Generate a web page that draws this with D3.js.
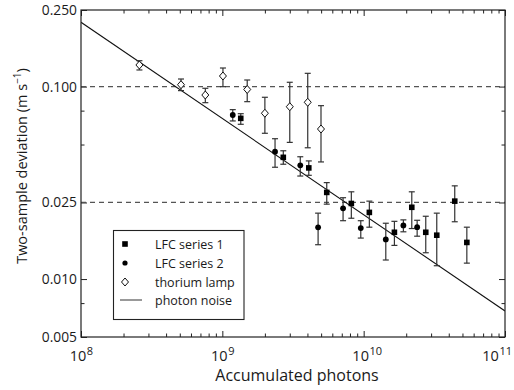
<!DOCTYPE html>
<html><head><meta charset="utf-8">
<script src="https://cdn.jsdelivr.net/npm/d3@7"></script>
<style>body{margin:0;background:#fff}svg{display:block}text{font-family:"Open Sans",sans-serif;fill:#1a1a1a}</style>
</head><body><svg id="c" width="514" height="390"></svg>
<script>
// ---- data ----
const thoriumN   = [2.59e8, 5.10e8, 7.58e8, 1.01e9, 1.50e9, 2.00e9, 3.00e9, 4.02e9, 4.99e9];
const thoriumDev = [0.1295, 0.1023, 0.0904, 0.1135, 0.0966, 0.0727, 0.0786, 0.0829, 0.0602];
const thoriumLo  = [0.1220, 0.0953, 0.0825, 0.0999, 0.0835, 0.0572, 0.0513, 0.0481, 0.0406];
const thoriumHi  = [0.1363, 0.1095, 0.0980, 0.1249, 0.1082, 0.0880, 0.1053, 0.1172, 0.0796];

const lfc1N   = [1.35e9, 2.70e9, 4.09e9, 5.48e9, 8.18e9, 1.097e10, 1.65e10, 2.19e10, 2.75e10, 3.29e10, 4.41e10, 5.37e10];
const lfc1Dev = [0.0684, 0.0429, 0.0378, 0.0282, 0.0247, 0.0222, 0.0175, 0.0236, 0.0175, 0.0169, 0.0254, 0.0155];
const lfc1Lo  = [0.0637, 0.0395, 0.0346, 0.0245, 0.0207, 0.0186, 0.01496, 0.0183, 0.0137, 0.01173, 0.01985, 0.0121];
const lfc1Hi  = [0.0723, 0.0464, 0.0411, 0.0317, 0.0284, 0.0254, 0.01995, 0.0284, 0.0212, 0.0220, 0.0305, 0.0186];

const lfc2N   = [1.185e9, 2.36e9, 3.56e9, 4.76e9, 7.15e9, 9.54e9, 1.434e10, 1.91e10, 2.39e10];
const lfc2Dev = [0.0712, 0.0459, 0.0390, 0.01856, 0.0233, 0.0184, 0.01607, 0.0190, 0.0186];
const lfc2Lo  = [0.0663, 0.0381, 0.0343, 0.01508, 0.0201, 0.01633, 0.01256, 0.0176, 0.0167];
const lfc2Hi  = [0.0759, 0.0536, 0.0432, 0.0220, 0.02646, 0.0201, 0.0195, 0.0203, 0.0202];

const noiseN   = [1e8, 1e11];
const noiseDev = [0.2159, 0.00683];

const refLevels = [0.1, 0.025];

const yMajor = [0.25, 0.1, 0.025, 0.01, 0.005];
const yMajorLabels = ["0.250", "0.100", "0.025", "0.010", "0.005"];
const yMinor = [0.075, 0.05, 0.0075];
const xMajorExp = [8, 9, 10, 11];

const legendLabels = ["LFC series 1", "LFC series 2", "thorium lamp", "photon noise"];

// ---- layout ----
const W = 514;
const svg = d3.select("#c");
const L = 81, R = 505, T = 10, B = 337;
const x = d3.scaleLog().domain([1e8, 1e11]).range([L, R]);
const y = d3.scaleLog().domain([0.005, 0.25]).range([B, T]);

const xMinor = [];
for (let e = 8; e < 11; e++) for (let m = 2; m <= 9; m++) xMinor.push(m * Math.pow(10, e));
const xMajor = xMajorExp.map(e => Math.pow(10, e));

const axCol = "#222";
function styleAxis(g) {
  g.select(".domain").remove();
  g.selectAll(".tick line").attr("stroke", axCol).attr("stroke-width", 1);
  g.selectAll(".tick text").remove();
}
svg.append("g").attr("transform", `translate(0,${B})`).call(d3.axisBottom(x).tickValues(xMajor).tickSize(-6)).call(styleAxis);
svg.append("g").attr("transform", `translate(0,${B})`).call(d3.axisBottom(x).tickValues(xMinor).tickSize(-3.5)).call(styleAxis);
svg.append("g").attr("transform", `translate(0,${T})`).call(d3.axisTop(x).tickValues(xMajor).tickSize(-6)).call(styleAxis);
svg.append("g").attr("transform", `translate(0,${T})`).call(d3.axisTop(x).tickValues(xMinor).tickSize(-3.5)).call(styleAxis);
svg.append("g").attr("transform", `translate(${L},0)`).call(d3.axisLeft(y).tickValues(yMajor).tickSize(-6)).call(styleAxis);
svg.append("g").attr("transform", `translate(${L},0)`).call(d3.axisLeft(y).tickValues(yMinor).tickSize(-3.5)).call(styleAxis);
svg.append("g").attr("transform", `translate(${R},0)`).call(d3.axisRight(y).tickValues(yMajor).tickSize(-6)).call(styleAxis);
svg.append("g").attr("transform", `translate(${R},0)`).call(d3.axisRight(y).tickValues(yMinor).tickSize(-3.5)).call(styleAxis);

// y tick labels
svg.append("g").selectAll("text").data(yMajor).join("text")
  .attr("x", L - 4).attr("y", d => y(d)).attr("dy", "0.36em")
  .attr("text-anchor", "end").attr("font-size", 13.8).text((d, i) => yMajorLabels[i]);

// x tick labels: base "10" centred just left of the tick, exponent after it
const xg = svg.append("g");
xMajorExp.forEach(e => {
  let cx = x(Math.pow(10, e)) - 3;
  const base = xg.append("text").attr("x", cx).attr("y", 361).attr("text-anchor", "middle")
    .attr("font-size", 14.5).text("10");
  const w = base.node().getComputedTextLength();
  const sup = xg.append("text").attr("x", cx + w / 2 + 0.5).attr("y", 355).attr("font-size", 11).text(e);
  const sw = sup.node().getComputedTextLength();
  const right = cx + w / 2 + 0.5 + sw;
  if (right > W - 2) {
    const shift = right - (W - 2);
    cx -= shift;
    base.attr("x", cx);
    sup.attr("x", cx + w / 2 + 0.5);
  }
});

// axis titles
svg.append("text").attr("x", 297).attr("y", 381).attr("text-anchor", "middle")
  .attr("font-size", 16).text("Accumulated photons");
const yt = svg.append("text").attr("transform", "translate(27,166) rotate(-90)")
  .attr("text-anchor", "middle").attr("font-size", 14.5);
yt.append("tspan").text("Two-sample deviation (m s");
yt.append("tspan").attr("font-size", 10).attr("dy", -6).text("\u22121");
yt.append("tspan").attr("dy", 6).text(")");

// clip
svg.append("clipPath").attr("id", "clip").append("rect").attr("x", L).attr("y", T).attr("width", R - L).attr("height", B - T);
const plot = svg.append("g").attr("clip-path", "url(#clip)");

plot.selectAll("line.ref").data(refLevels).join("line")
  .attr("x1", L).attr("x2", R).attr("y1", d => y(d)).attr("y2", d => y(d))
  .attr("stroke", "#555").attr("stroke-width", 1.2).attr("stroke-dasharray", "5,4");

const noise = noiseN.map((n, i) => [n, noiseDev[i]]);
plot.append("path").datum(noise)
  .attr("d", d3.line().x(d => x(d[0])).y(d => y(d[1])))
  .attr("stroke", "#111").attr("stroke-width", 1.1).attr("fill", "none");

function errorBars(N, lo, hi) {
  const g = plot.append("g").attr("stroke", "#333").attr("stroke-width", 1.2);
  N.forEach((n, i) => {
    const cx = x(n);
    g.append("line").attr("x1", cx).attr("x2", cx).attr("y1", y(lo[i])).attr("y2", y(hi[i]));
    g.append("line").attr("x1", cx - 3).attr("x2", cx + 3).attr("y1", y(lo[i])).attr("y2", y(lo[i]));
    g.append("line").attr("x1", cx - 3).attr("x2", cx + 3).attr("y1", y(hi[i])).attr("y2", y(hi[i]));
  });
}
errorBars(thoriumN, thoriumLo, thoriumHi);
errorBars(lfc1N, lfc1Lo, lfc1Hi);
errorBars(lfc2N, lfc2Lo, lfc2Hi);

const diamond = "M0,-4L3.5,0L0,4L-3.5,0Z";
plot.append("g").selectAll("path").data(thoriumN).join("path")
  .attr("transform", (d, i) => `translate(${x(d)},${y(thoriumDev[i])})`)
  .attr("d", diamond).attr("fill", "#fff").attr("stroke", "#111").attr("stroke-width", 1);
plot.append("g").selectAll("rect").data(lfc1N).join("rect")
  .attr("x", d => x(d) - 2.8).attr("y", (d, i) => y(lfc1Dev[i]) - 2.8)
  .attr("width", 5.6).attr("height", 5.6).attr("fill", "#000");
plot.append("g").selectAll("circle").data(lfc2N).join("circle")
  .attr("cx", d => x(d)).attr("cy", (d, i) => y(lfc2Dev[i])).attr("r", 2.9).attr("fill", "#000");

svg.append("rect").attr("x", L).attr("y", T).attr("width", R - L).attr("height", B - T)
  .attr("fill", "none").attr("stroke", axCol).attr("stroke-width", 1.2);

// legend
const lg = svg.append("g");
lg.append("rect").attr("x", 113.5).attr("y", 230.5).attr("width", 130.5).attr("height", 89)
  .attr("fill", "#fff").attr("stroke", axCol).attr("stroke-width", 1.1);
const ly = [244, 263, 282, 300];
lg.append("rect").attr("x", 125 - 2.8).attr("y", ly[0] - 2.8).attr("width", 5.6).attr("height", 5.6).attr("fill", "#000");
lg.append("circle").attr("cx", 125).attr("cy", ly[1]).attr("r", 2.6).attr("fill", "#000");
lg.append("path").attr("transform", `translate(125,${ly[2]})`).attr("d", diamond).attr("fill", "#fff").attr("stroke", "#111");
lg.append("line").attr("x1", 120).attr("x2", 142).attr("y1", ly[3]).attr("y2", ly[3]).attr("stroke", "#555").attr("stroke-width", 1.2);
lg.selectAll("text").data(legendLabels).join("text")
  .attr("x", 155).attr("y", (d, i) => ly[i]).attr("dy", "0.36em").attr("font-size", 12.5).text(d => d);
</script></body></html>
